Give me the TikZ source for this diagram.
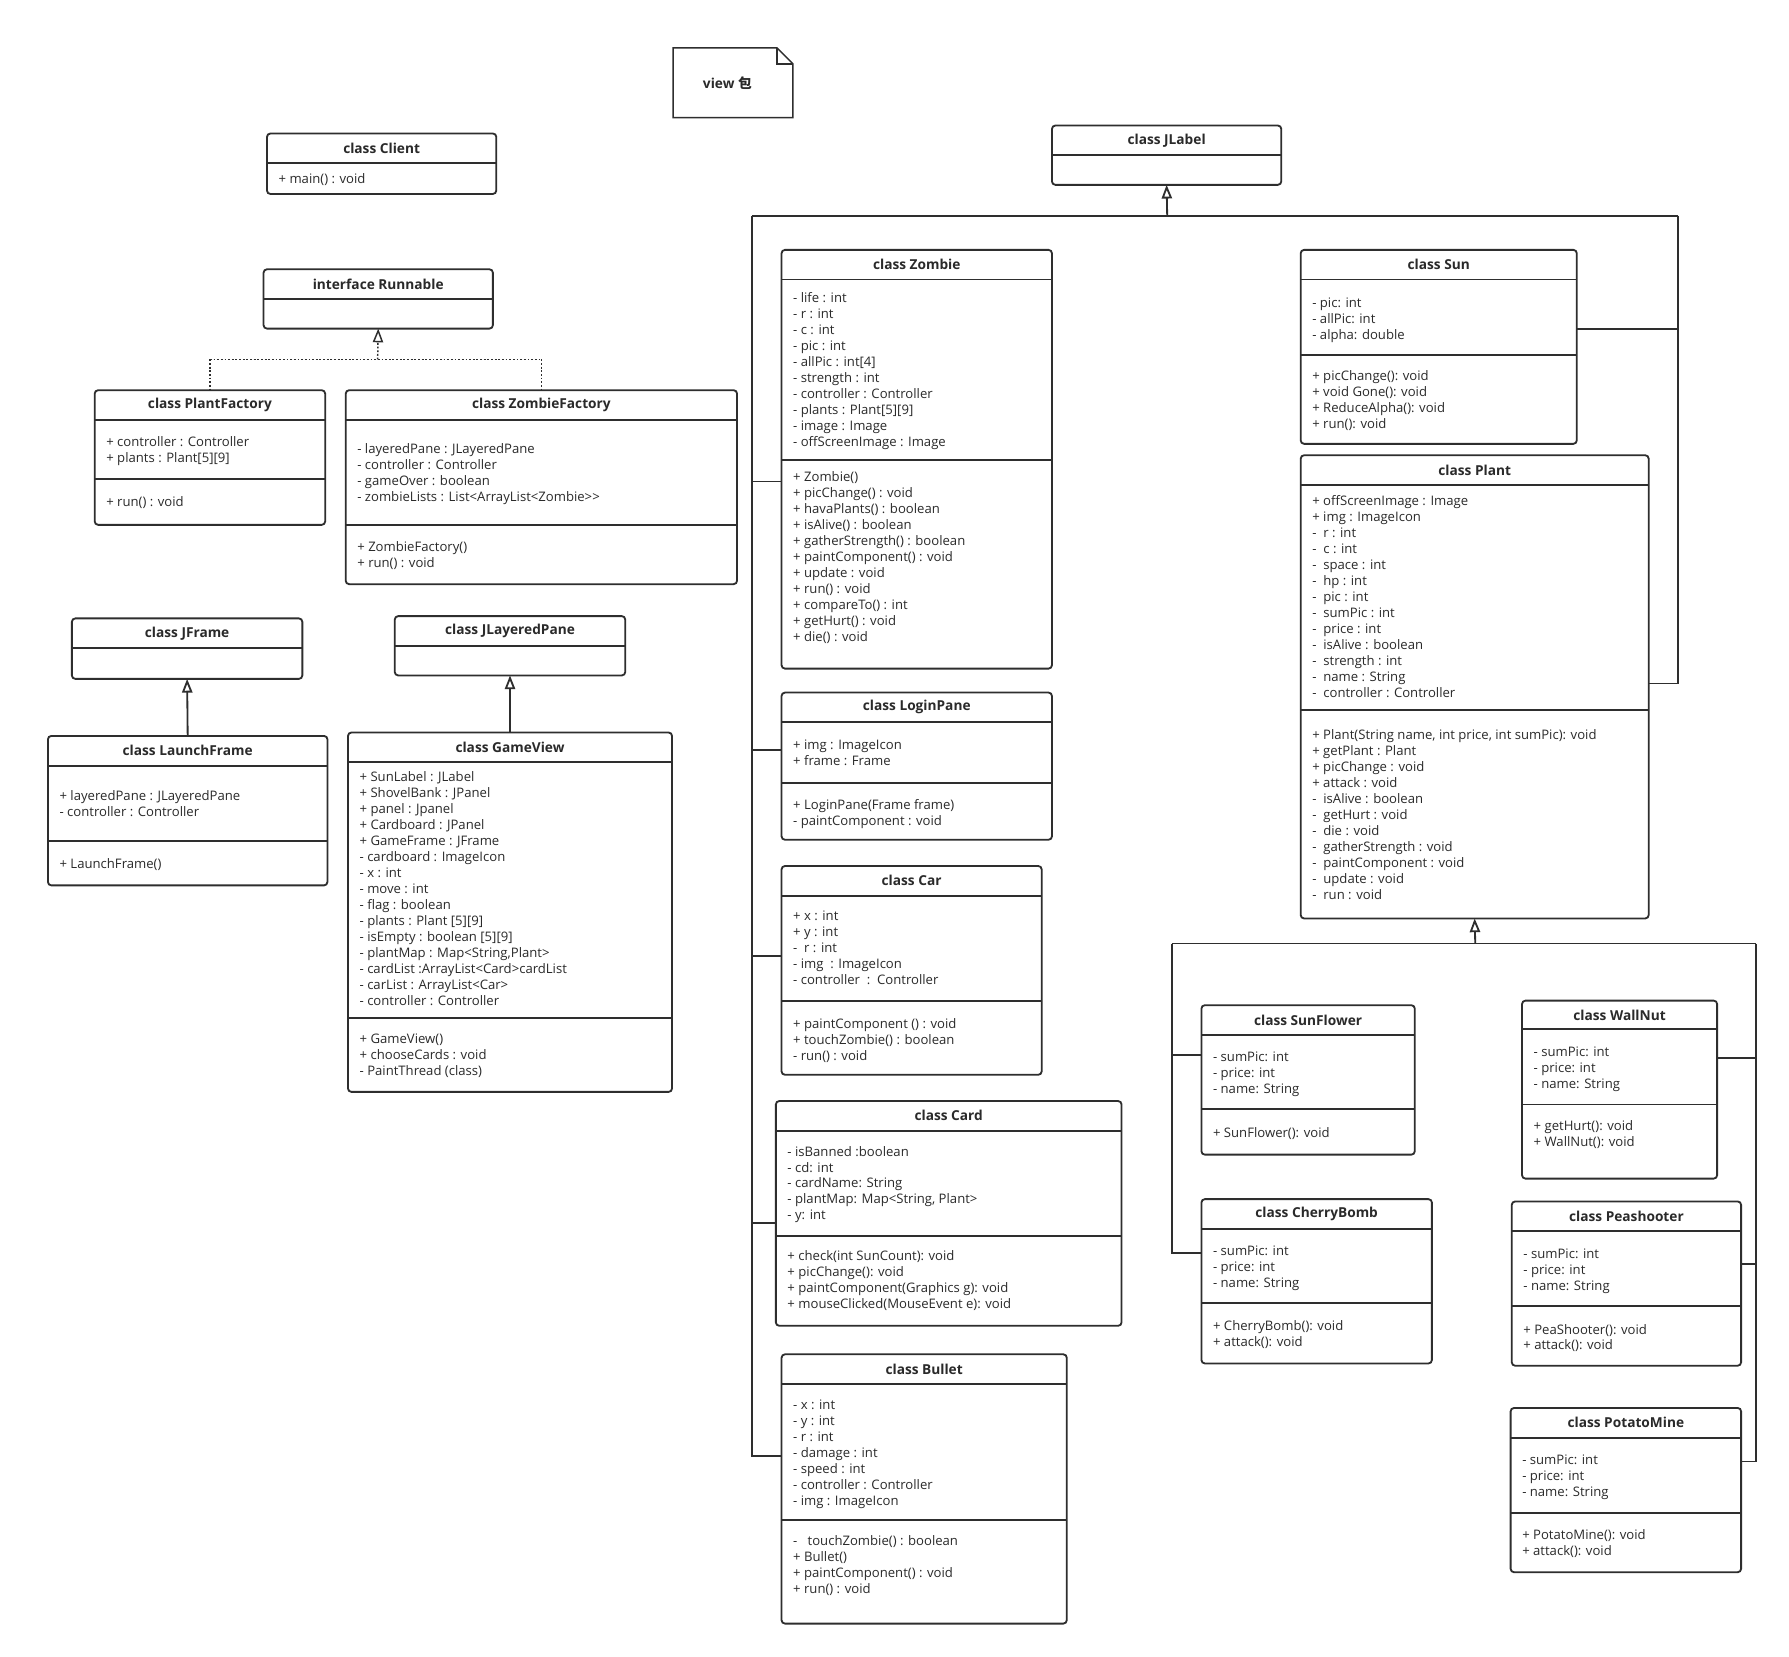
\documentclass[tikz,border=0pt]{standalone}
\usepackage{fontspec}
\setmainfont{Open Sans}
\newfontfamily\cjk{Noto Sans CJK SC}
\usetikzlibrary{arrows.meta,fit}
\definecolor{lc}{HTML}{2E2E2E}
\definecolor{tc}{HTML}{2A2A2A}
\tikzset{
  clsbox/.style={draw=lc, line width=1.6pt, rounded corners=3pt, inner sep=0pt, outer sep=0pt},
  divl/.style={draw=lc, line width=1.6pt},
  ttl/.style={font=\fontsize{12}{14}\selectfont\bfseries, text=tc, inner sep=0pt},
  comp/.style={anchor=north west, align=left, inner sep=0pt, font=\fontsize{11.5}{14}\selectfont, text=tc},
  conn/.style={draw=lc, line width=1.6pt},
  gen/.style={conn, -{Triangle[open, length=12pt, width=9pt]}},
  dots/.style={draw=lc, line width=1.3pt, dash pattern=on 1.6pt off 1.6pt},
  real/.style={dots, -{Triangle[open, length=12pt, width=9pt]}}
}
\newcommand{\umlclass}[7]{%
  \node[clsbox, fit={(#2,#3) (#4,#5)}] (#1) {};
  \draw[divl] (#1.west |- 0,#6) -- (#1.east |- 0,#6);
  \node[ttl] (#1-t) at ({(#2+#4)/2},{(#3+#6)/2}) {#7};
}
\newcommand{\umldiv}[2]{\draw[divl] (#1.west |- 0,#2) -- (#1.east |- 0,#2);}
\newcommand{\umltext}[4]{\node[comp] (#1) at ({#2+10},{#3-5.8}) {\strut #4};}
\begin{document}
\begin{tikzpicture}[x=1pt, y=-1pt]
\fill[white] (0,0) rectangle (1568,1452);
\useasboundingbox (0,0) rectangle (1568,1452);

% note
\node[fit={(590,42) (695,103)}, inner sep=0pt, outer sep=0pt] (note) {};
\draw[conn, line width=1.3pt] (note.north west) -- ([xshift=-14pt]note.north east) -- ([yshift=-14pt]note.north east) -- (note.south east) -- (note.south west) -- cycle;
\draw[conn, line width=1.1pt] ([xshift=-14pt]note.north east) -- ([xshift=-14pt,yshift=-14pt]note.north east) -- ([yshift=-14pt]note.north east);
\node[ttl] (notetext) at ([xshift=-5pt]note.center) {view {\cjk\bfseries 包}};

% left column
\umlclass{client}{234}{117}{435}{170}{143}{class Client}
\umltext{client-m}{234}{157}{+ main() : void}

\umlclass{runnable}{231}{236}{432}{288}{262}{interface Runnable}

\umlclass{pfactory}{83}{342}{285}{460}{368}{class PlantFactory}
\umldiv{pfactory}{420}
\umltext{pfactory-a}{83}{387}{+ controller : Controller\\+ plants : Plant[5][9]}
\umltext{pfactory-m}{83}{440}{+ run() : void}

\umlclass{zfactory}{303}{342}{646}{512}{368}{class ZombieFactory}
\umldiv{zfactory}{460}
\umltext{zfactory-a}{303}{393}{- layeredPane : JLayeredPane\\- controller : Controller\\- gameOver : boolean\\- zombieLists : List<ArrayList<Zombie>{}>}
\umltext{zfactory-m}{303}{479}{+ ZombieFactory()\\+ run() : void}

\umlclass{jframe}{63}{542}{265}{595}{568}{class JFrame}
\umlclass{jlp}{346}{540}{548}{592}{566}{class JLayeredPane}

\umlclass{launch}{42}{645}{287}{776}{671}{class LaunchFrame}
\umldiv{launch}{737}
\umltext{launch-a}{42}{697}{+ layeredPane : JLayeredPane\\- controller : Controller}
\umltext{launch-m}{42}{757}{+ LaunchFrame()}

\umlclass{gameview}{305}{642}{589}{957}{668}{class GameView}
\umldiv{gameview}{892}
\umltext{gameview-a}{305}{681}{+ SunLabel : JLabel\\+ ShovelBank : JPanel\\+ panel : Jpanel\\+ Cardboard : JPanel\\+ GameFrame : JFrame\\- cardboard : ImageIcon\\- x : int\\- move : int\\- flag : boolean\\- plants : Plant [5][9]\\- isEmpty : boolean [5][9]\\- plantMap : Map<String,Plant>\\- cardList :ArrayList<Card>cardList\\- carList : ArrayList<Car>\\- controller : Controller}
\umltext{gameview-m}{305}{910}{+ GameView()\\+ chooseCards : void\\- PaintThread (class)}

% middle column
\umlclass{jlabel}{922}{110}{1123}{162}{136}{class JLabel}

\umlclass{zombie}{685}{219}{922}{586}{245}{class Zombie}
\umldiv{zombie}{403}
\umltext{zombie-a}{685}{261}{- life : int\\- r : int\\- c : int\\- pic : int\\- allPic : int[4]\\- strength : int\\- controller : Controller\\- plants : Plant[5][9]\\- image : Image\\- offScreenImage : Image}
\umltext{zombie-m}{685}{418}{+ Zombie()\\+ picChange() : void\\+ havaPlants() : boolean\\+ isAlive() : boolean\\+ gatherStrength() : boolean\\+ paintComponent() : void\\+ update : void\\+ run() : void\\+ compareTo() : int\\+ getHurt() : void\\+ die() : void}

\umlclass{login}{685}{607}{922}{736}{633}{class LoginPane}
\umldiv{login}{686}
\umltext{login-a}{685}{653}{+ img : ImageIcon\\+ frame : Frame}
\umltext{login-m}{685}{705}{+ LoginPane(Frame frame)\\- paintComponent : void}

\umlclass{car}{685}{759}{913}{942}{785}{class Car}
\umldiv{car}{877}
\umltext{car-a}{685}{803}{+ x : int\\+ y : int\\-~~r : int\\- img~~: ImageIcon\\- controller~~:~~Controller}
\umltext{car-m}{685}{897}{+ paintComponent () : void\\+ touchZombie() : boolean\\- run() : void}

\umlclass{card}{680}{965}{983}{1162}{991}{class Card}
\umldiv{card}{1083}
\umltext{card-a}{680}{1009}{- isBanned :boolean\\- cd: int\\- cardName: String\\- plantMap: Map<String, Plant>\\- y: int}
\umltext{card-m}{680}{1101}{+ check(int SunCount): void\\+ picChange(): void\\+ paintComponent(Graphics g): void\\+ mouseClicked(MouseEvent e): void}

\umlclass{bullet}{685}{1187}{935}{1423}{1213}{class Bullet}
\umldiv{bullet}{1332}
\umltext{bullet-a}{685}{1231}{- x : int\\- y : int\\- r : int\\- damage : int\\- speed : int\\- controller : Controller\\- img : ImageIcon}
\umltext{bullet-m}{685}{1350}{-~~~touchZombie() : boolean\\+ Bullet()\\+ paintComponent() : void\\+ run() : void}

% right column
\umlclass{sun}{1140}{219}{1382}{389}{245}{class Sun}
\umldiv{sun}{311}
\umltext{sun-a}{1140}{265}{- pic: int\\- allPic: int\\- alpha: double}
\umltext{sun-m}{1140}{329}{+ picChange(): void\\+ void Gone(): void\\+ ReduceAlpha(): void\\+ run(): void}

\umlclass{plant}{1140}{399}{1445}{805}{425}{class Plant}
\umldiv{plant}{622}
\umltext{plant-a}{1140}{439}{+ offScreenImage : Image\\+ img : ImageIcon\\-~~r : int\\-~~c : int\\-~~space : int\\-~~hp : int\\-~~pic : int\\-~~sumPic : int\\-~~price : int\\-~~isAlive : boolean\\-~~strength : int\\-~~name : String\\-~~controller : Controller}
\umltext{plant-m}{1140}{644}{+ Plant(String name, int price, int sumPic): void\\+ getPlant : Plant\\+ picChange : void\\+ attack : void\\-~~isAlive : boolean\\-~~getHurt : void\\-~~die : void\\-~~gatherStrength : void\\-~~paintComponent : void\\-~~update : void\\-~~run : void}

\umlclass{sunflower}{1053}{881}{1240}{1012}{907}{class SunFlower}
\umldiv{sunflower}{972}
\umltext{sunflower-a}{1053}{926}{- sumPic: int\\- price: int\\- name: String}
\umltext{sunflower-m}{1053}{993}{+ SunFlower(): void}

\umlclass{wallnut}{1334}{877}{1505}{1033}{902}{class WallNut}
\umldiv{wallnut}{968}
\umltext{wallnut-a}{1334}{922}{- sumPic: int\\- price: int\\- name: String}
\umltext{wallnut-m}{1334}{987}{+ getHurt(): void\\+ WallNut(): void}

\umlclass{cherry}{1053}{1051}{1255}{1195}{1077}{class CherryBomb}
\umldiv{cherry}{1142}
\umltext{cherry-a}{1053}{1096}{- sumPic: int\\- price: int\\- name: String}
\umltext{cherry-m}{1053}{1162}{+ CherryBomb(): void\\+ attack(): void}

\umlclass{pea}{1325}{1053}{1526}{1197}{1079}{class Peashooter}
\umldiv{pea}{1145}
\umltext{pea-a}{1325}{1099}{- sumPic: int\\- price: int\\- name: String}
\umltext{pea-m}{1325}{1165}{+ PeaShooter(): void\\+ attack(): void}

\umlclass{potato}{1324}{1234}{1526}{1378}{1260}{class PotatoMine}
\umldiv{potato}{1326}
\umltext{potato-a}{1324}{1279}{- sumPic: int\\- price: int\\- name: String}
\umltext{potato-m}{1324}{1345}{+ PotatoMine(): void\\+ attack(): void}

% realization Runnable
\coordinate (rb) at (331,315);
\coordinate (rbL) at (184,315);
\coordinate (rbR) at (474.5,315);
\draw[real] (rb) -- (runnable.south);
\draw[dots] (rbL) -- (rbR);
\draw[dots] (rbL) -- (pfactory.north);
\draw[dots] (rbR) -- (zfactory.north);

% generalizations left
\draw[gen] (launch.north) -- (jframe.south);
\draw[gen] (gameview.north) -- (jlp.south);

% JLabel tree
\coordinate (jb) at (1023,189);
\coordinate (jbL) at (659,189);
\coordinate (jbR) at (1471,189);
\draw[gen] (jb) -- (jlabel.south);
\draw[conn] (jbL) -- (jbR);
\draw[conn] (jbL) |- (bullet.west |- 0,1276);
\draw[conn] (jbL |- 0,422) -- (zombie.west |- 0,422);
\draw[conn] (jbL |- 0,657) -- (login.west |- 0,657);
\draw[conn] (jbL |- 0,838) -- (car.west |- 0,838);
\draw[conn] (jbL |- 0,1072) -- (card.west |- 0,1072);
\draw[conn] (jbR) |- (plant.east |- 0,599);
\draw[conn] (jbR |- 0,288) -- (sun.east |- 0,288);

% Plant tree
\coordinate (pb) at (1293,827);
\coordinate (pbL) at (1027,827);
\coordinate (pbR) at (1539,827);
\draw[gen] (pb) -- (plant.south);
\draw[conn] (pbL) -- (pbR);
\draw[conn] (pbL) |- (cherry.west |- 0,1098);
\draw[conn] (pbL |- 0,925) -- (sunflower.west |- 0,925);
\draw[conn] (pbR) |- (potato.east |- 0,1281);
\draw[conn] (pbR |- 0,927) -- (wallnut.east |- 0,927);
\draw[conn] (pbR |- 0,1108) -- (pea.east |- 0,1108);
\end{tikzpicture}
\end{document}
